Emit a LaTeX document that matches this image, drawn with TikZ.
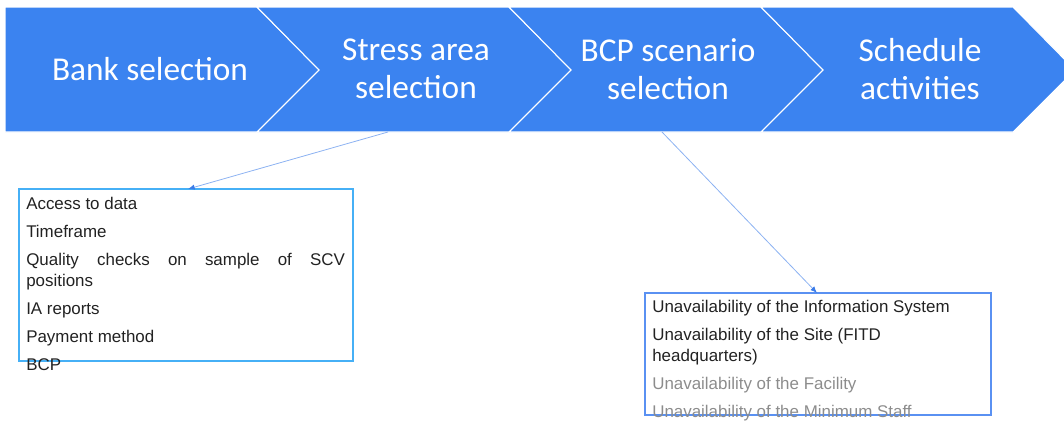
\documentclass[tikz,border=0pt]{standalone}
\usepackage{fontspec}
\setmainfont{Liberation Sans}
\newfontfamily\chevronfont{Carlito}
\usetikzlibrary{arrows.meta}

\definecolor{bandBlue}{RGB}{59,131,240}
\definecolor{stressEdge}{RGB}{70,176,246}
\definecolor{scenarioEdge}{RGB}{90,145,242}
\definecolor{linkBlue}{RGB}{140,178,242}
\definecolor{tipBlue}{RGB}{58,123,232}
\definecolor{itemDark}{RGB}{34,34,34}
\definecolor{itemGrey}{RGB}{140,140,140}

\begin{document}
\begin{tikzpicture}
[x=0.75pt,y=-0.75pt,
  chevronDecorate/.style={fill=bandBlue,draw=white,line width=0.8pt,line join=miter},%
  labelDecorate/.style={text=white,align=center,inner sep=0pt,font=\chevronfont\fontsize{25}{28.5}\selectfont},%
  frameDecorate/.style={draw=#1,line width=0.95pt},%
  listDecorate/.style={anchor=north west,inner sep=0pt,align=left,text=itemDark,font=\fontsize{12.7}{15.75}\selectfont},%
  linkDecorate/.style={draw=linkBlue,line width=0.6pt,-{Latex[length=5pt,width=4pt,color=tipBlue]}}]
\useasboundingbox (0,0) rectangle (1064,421);
\clip (0,0) rectangle (1064,421);
%% process band
\foreach \i/\notch in {0/0, 1/62, 2/62, 3/62}
{
  \draw[chevronDecorate] ({5+252*\i},7) -- ({257+252*\i},7) -- ({319+252*\i},70)
    -- ({257+252*\i},132) -- ({5+252*\i},132) -- ({5+252*\i+\notch},70) -- cycle;
}
\foreach \nodename/\x/\txt in {bank/150/{Bank selection}, stress/416/{Stress area\\selection},
  scenario/668/{BCP scenario\\selection}, schedule/920/{Schedule\\activities}}
{
  \node (\nodename) at (\x,69) [labelDecorate] {\txt};
}
\coordinate (stressfoot) at (388,132);
\coordinate (scenariofoot) at (662,132);
%% detail boxes
\coordinate (stresscorner) at (19,189);
\coordinate (scenariocorner) at (645,293);
\draw[frameDecorate=stressEdge] (stresscorner) -- (353,189) -- (353,361) -- (19,361) -- cycle;
\draw[frameDecorate=scenarioEdge] (scenariocorner) -- (991,293) -- (991,415) -- (645,415) -- cycle;
\node (stresslist) at (26,197) [listDecorate]
  {Access to data\\[5.25pt]
   Timeframe\\[5.25pt]
   \makebox[239pt][s]{Quality checks on sample of SCV}\\
   positions\\[5.25pt]
   IA reports\\[5.25pt]
   Payment method\\[5.25pt]
   BCP};
\node (scenariolist) at (652,300) [listDecorate]
  {Unavailability of the Information System\\[5.25pt]
   Unavailability of the Site (FITD\\
   headquarters)\\[5.25pt]
   \textcolor{itemGrey}{Unavailability of the Facility}\\[5.25pt]
   \textcolor{itemGrey}{Unavailability of the Minimum Staff}};
%% links
\draw[linkDecorate] (stressfoot) -- ([xshift=126.75pt]stresscorner);
\draw[linkDecorate] (scenariofoot) -- ([xshift=129pt]scenariocorner);
\end{tikzpicture}
\end{document}
